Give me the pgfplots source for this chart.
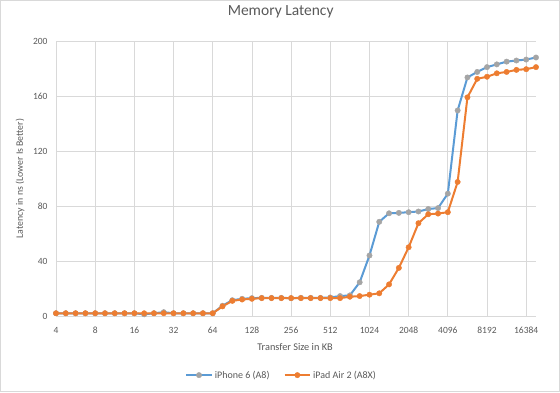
\documentclass[border=0pt]{standalone}
\usepackage{fontspec}
\setmainfont{Carlito}
\usepackage{pgfplots}
\pgfplotsset{compat=1.18}
\definecolor{txt}{HTML}{595959}
\definecolor{gridc}{HTML}{D9D9D9}
\definecolor{blueL}{HTML}{5B9BD5}
\definecolor{orangeL}{HTML}{ED7D31}
\definecolor{greyM}{HTML}{A5A5A5}
\begin{document}
\begin{tikzpicture}
\useasboundingbox (0,0) rectangle (560pt,392pt);
\draw[gridc, line width=1pt] (0.5pt,0.5pt) rectangle (559.5pt,391.5pt);
\begin{axis}[
  at={(56pt,76pt)}, anchor=south west, scale only axis,
  width=480pt, height=275pt,
  xmin=0, xmax=49, ymin=0, ymax=200,
  xtick={0,4,...,48},
  xticklabels={4,8,16,32,64,128,256,512,1024,2048,4096,8192,16384},
  ytick={0,40,...,200},
  grid=major, major grid style={gridc, line width=0.75pt},
  axis line style={draw=none},
  tick style={draw=none},
  /pgf/number format/assume math mode=true,
  ticklabel style={font=\fontsize{9.5}{11}\selectfont, text=txt},
  xticklabel style={anchor=center, yshift=-14pt},
  yticklabel style={anchor=east, xshift=-5pt},
  title={Memory Latency},
  title style={font=\fontsize{15.5}{17}\selectfont, text=txt, at={(0.468,1.084)}, anchor=center},
  xlabel={Transfer Size in KB},
  xlabel style={font=\fontsize{10.3}{12}\selectfont, text=txt, at={(0.498,-0.113)}, anchor=center},
  ylabel={Latency in ns (Lower Is Better)},
  ylabel style={font=\fontsize{9.8}{11}\selectfont, text=txt, at={(-0.075,0.5)}, anchor=center},
  legend columns=2,
  legend style={at={(0.47,-0.215)}, anchor=center, draw=none, fill=none,
    font=\fontsize{10}{12}\selectfont, text=txt,
    /tikz/every even column/.append style={column sep=12pt}},
  legend image code/.code={\draw[mark repeat=2,mark phase=2] plot coordinates {(0cm,0cm) (0.45cm,0cm) (0.9cm,0cm)};},
]
\addplot[color=blueL, line width=2pt, mark=*, mark size=2.7pt, mark options={fill=greyM, draw=greyM, line width=0.4pt}] coordinates {
(0,2) (1,2) (2,2) (3,2) (4,2) (5,2) (6,2) (7,2) (8,2) (9,1.2)
(10,2) (11,2.8) (12,2) (13,2) (14,2) (15,2) (16,2) (17,7.5) (18,11.5) (19,12.5)
(20,13) (21,13.2) (22,13.2) (23,13.2) (24,13) (25,13.2) (26,13.2) (27,13.2) (28,13.5) (29,14.5)
(30,15) (31,24.5) (32,44) (33,68.5) (34,74.7) (35,75) (36,75.5) (37,76) (38,77.8) (39,78.5)
(40,89) (41,149.5) (42,173.5) (43,177.5) (44,181) (45,183) (46,185) (47,185.8) (48,186.5) (49,188)
};
\addlegendentry{iPhone 6 (A8)}
\addplot[color=orangeL, line width=2pt, mark=*, mark size=2.7pt, mark options={fill=orangeL, draw=orangeL, line width=0.4pt}] coordinates {
(0,2) (1,2) (2,2) (3,2) (4,2) (5,2) (6,2) (7,2) (8,2) (9,2)
(10,2) (11,2) (12,2) (13,2) (14,2) (15,2) (16,2) (17,7) (18,11) (19,12)
(20,12.5) (21,13) (22,13) (23,13) (24,13) (25,13) (26,13) (27,13) (28,13) (29,13)
(30,14) (31,14.5) (32,15.5) (33,16.5) (34,23) (35,35) (36,50) (37,67.5) (38,74) (39,74.5)
(40,75.5) (41,97.5) (42,159) (43,172.5) (44,174) (45,176.5) (46,177.5) (47,179) (48,179.5) (49,181)
};
\addlegendentry{iPad Air 2 (A8X)}
\end{axis}
\end{tikzpicture}
\end{document}
